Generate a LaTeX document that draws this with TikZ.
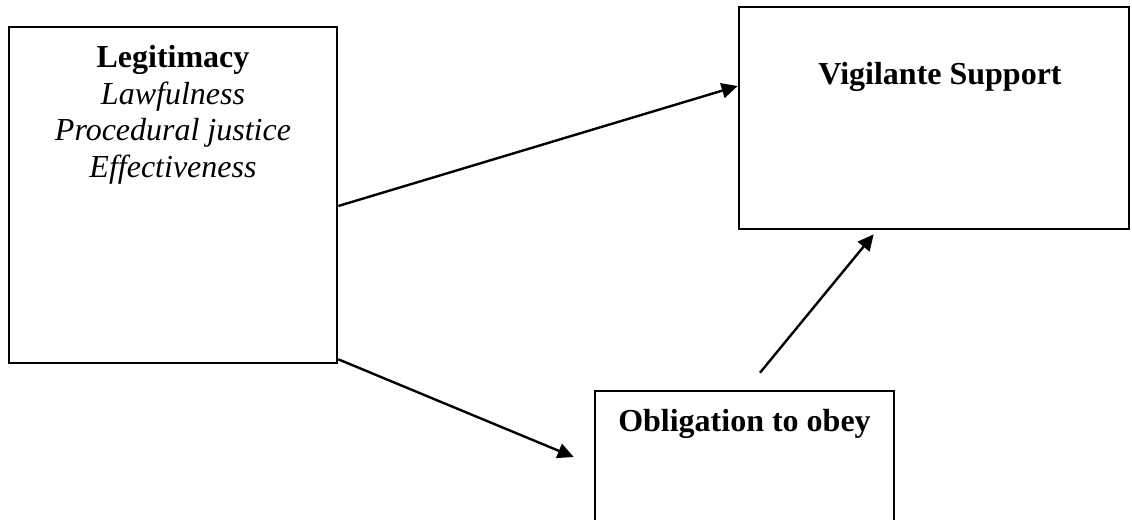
\documentclass[tikz,border=0pt]{standalone}
\usepackage{fontspec}
\setmainfont{Liberation Serif}
\usepackage{tikz}
\usetikzlibrary{arrows.meta,calc}

\tikzset{
  box/.style={draw, line width=1.3pt, rectangle, inner sep=0pt},
  boxtext/.style={anchor=north, align=center, inner sep=0pt,
    font=\fontsize{16}{18.4}\selectfont},
  link/.style={line width=1.2pt, -{Triangle[length=8pt,width=7.5pt]}}
}

\begin{document}
\begin{tikzpicture}[x=0.5pt,y=-0.5pt] % 1 unit = 1 pixel of the reference
\useasboundingbox (0,0) rectangle (1132,520);
\clip (0,0) rectangle (1132,520);

% the three boxes
\node[box, minimum width=164pt, minimum height=168pt] (legit) at (173,195) {};
\node[box, minimum width=195pt, minimum height=111pt] (vig) at (934,118) {};
\node[box, minimum width=149.5pt, minimum height=80pt] (oblig) at (744.5,471) {};

% their texts
\node[boxtext] (legittxt) at ($(legit.north)+(0,19)$)
  {\textbf{Legitimacy}\\ \textit{Lawfulness}\\ \textit{Procedural justice}\\ \textit{Effectiveness}};
\node[boxtext] (vigtxt) at ($(vig.north)+(6,56)$) {\textbf{Vigilante Support}};
\node[boxtext] (obligtxt) at ($(oblig.north)+(0,19)$) {\textbf{Obligation to obey}};

% arrows
\coordinate (obligin) at ($(oblig.west)+(-20,-14)$);
\coordinate (obligout) at ($(oblig.north)+(15.5,-17)$);
\draw[link] ($(legit.east)+(0,11)$) -- ($(vig.west)+(0,-32)$);
\draw[link] ($(legit.south east)+(0,-5)$) -- (obligin);
\draw[link] (obligout) -- ($(vig.south west)+(136,4)$);
\end{tikzpicture}
\end{document}
